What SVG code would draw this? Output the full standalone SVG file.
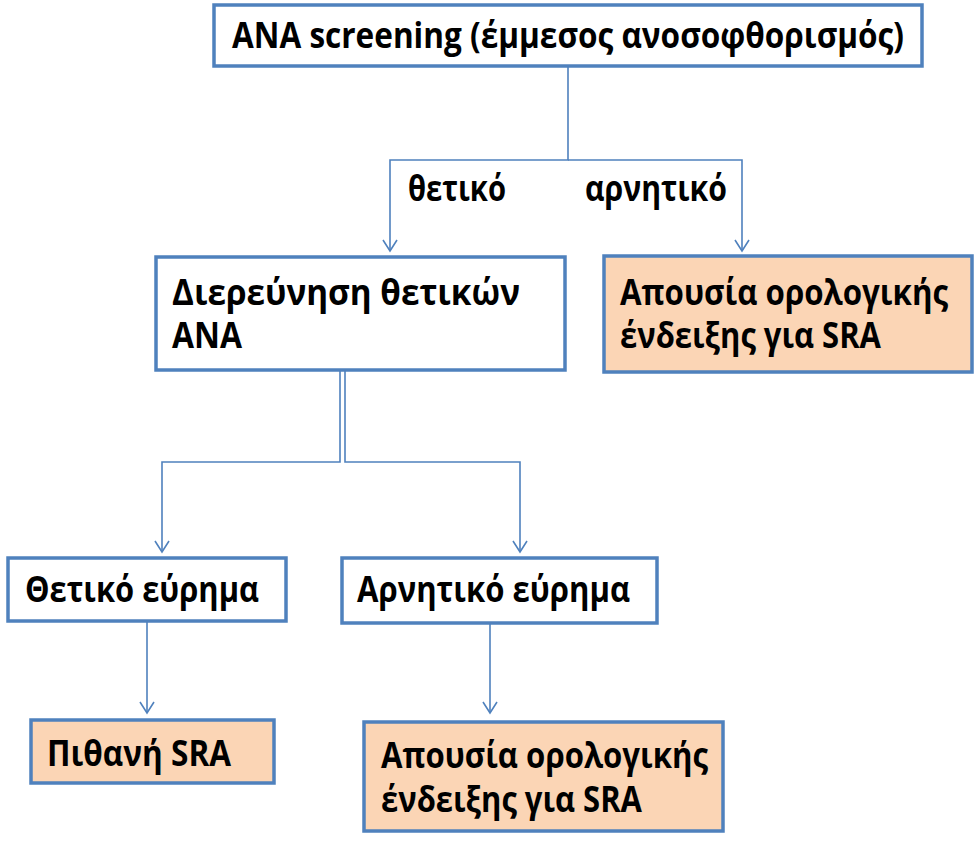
<svg xmlns="http://www.w3.org/2000/svg" width="977" height="846" viewBox="0 0 977 846">
<style>
.box{fill:#ffffff;stroke:#4F81BD;stroke-width:3.5}
.peach{fill:#FBD5B5;stroke:#4F81BD;stroke-width:3.5}
.t{font-family:"Open Sans","Noto Sans","Liberation Sans",sans-serif;font-weight:bold;font-size:35px;fill:#000}
.c{fill:none;stroke:#4F81BD;stroke-width:1.6}
</style>
<defs>
<marker id="arr" markerWidth="14" markerHeight="16" refX="12" refY="8" orient="auto" markerUnits="userSpaceOnUse" viewBox="0 0 14 16">
<path d="M1,1 L12,8 L1,15" fill="none" stroke="#4F81BD" stroke-width="1.6"/>
</marker>
</defs>
<g id="connectors">
<path class="c" d="M568,66 V160 H390 V251" marker-end="url(#arr)"/>
<path class="c" d="M568,160 H742 V251" marker-end="url(#arr)"/>
<path class="c" d="M340,371 V462 H162 V552" marker-end="url(#arr)"/>
<path class="c" d="M345,371 V462 H520 V552" marker-end="url(#arr)"/>
<path class="c" d="M147,622 V713" marker-end="url(#arr)"/>
<path class="c" d="M490,624 V713" marker-end="url(#arr)"/>
<text class="t" x="408" y="201" textLength="98" lengthAdjust="spacingAndGlyphs">θετικό</text>
<text class="t" x="585" y="201" textLength="142" lengthAdjust="spacingAndGlyphs">αρνητικό</text>
</g>
<g id="n-screening">
<rect class="box" x="214" y="5" width="708" height="61"/>
<text class="t" x="232" y="48" textLength="672" lengthAdjust="spacingAndGlyphs">ANA screening (έμμεσος ανοσοφθορισμός)</text>
</g>
<g id="n-investigation">
<rect class="box" x="156" y="257" width="409" height="113"/>
<text class="t" x="172" y="305" textLength="348" lengthAdjust="spacingAndGlyphs">Διερεύνηση θετικών</text>
<text class="t" x="172" y="348" textLength="70" lengthAdjust="spacingAndGlyphs">ANA</text>
</g>
<g id="n-absence1">
<rect class="peach" x="604" y="256" width="368" height="116"/>
<text class="t" x="620" y="305" textLength="328" lengthAdjust="spacingAndGlyphs">Απουσία ορολογικής</text>
<text class="t" x="620" y="348" textLength="261" lengthAdjust="spacingAndGlyphs">ένδειξης για SRA</text>
</g>
<g id="n-positive">
<rect class="box" x="8" y="558" width="278" height="63"/>
<text class="t" x="25" y="602" textLength="234" lengthAdjust="spacingAndGlyphs">Θετικό εύρημα</text>
</g>
<g id="n-negative">
<rect class="box" x="342" y="558" width="315" height="65"/>
<text class="t" x="357" y="602" textLength="273" lengthAdjust="spacingAndGlyphs">Αρνητικό εύρημα</text>
</g>
<g id="n-probable">
<rect class="peach" x="31" y="720" width="243" height="63"/>
<text class="t" x="47" y="766" textLength="184" lengthAdjust="spacingAndGlyphs">Πιθανή SRA</text>
</g>
<g id="n-absence2">
<rect class="peach" x="364" y="722" width="359" height="109"/>
<text class="t" x="381" y="768" textLength="327" lengthAdjust="spacingAndGlyphs">Απουσία ορολογικής</text>
<text class="t" x="381" y="812" textLength="261" lengthAdjust="spacingAndGlyphs">ένδειξης για SRA</text>
</g>
</svg>
